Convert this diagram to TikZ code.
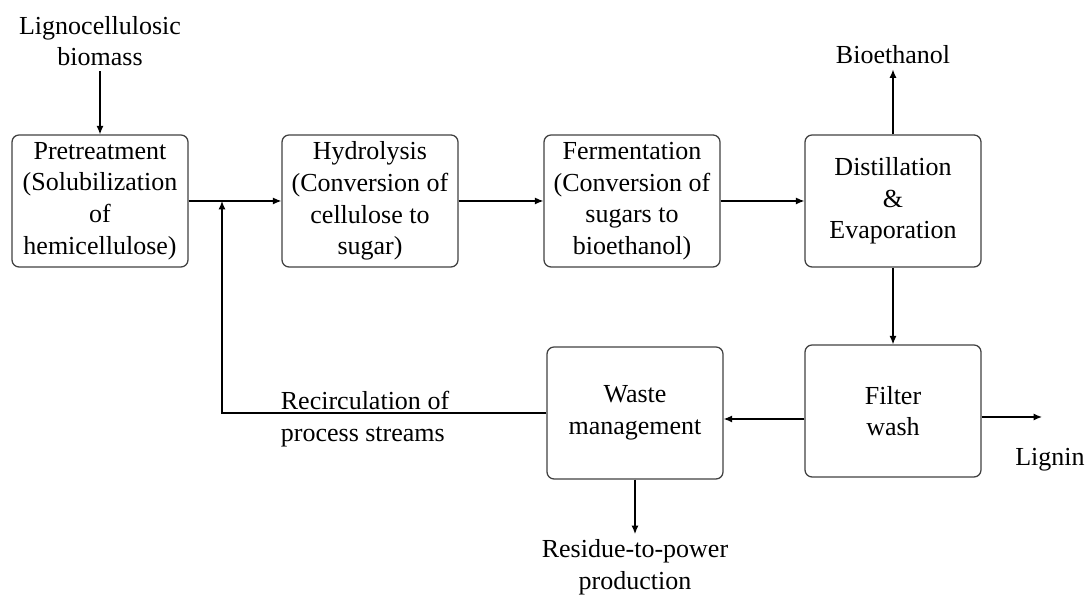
\documentclass[tikz,border=0pt]{standalone}
\usepackage{fontspec}
\setmainfont{Liberation Serif}
\usetikzlibrary{arrows.meta,positioning}

\begin{document}
\begin{tikzpicture}[>={Latex[length=6pt,width=5pt]},line width=0.9pt,on grid,auto,
  every node/.style={font=\fontsize{18.5}{22.5}\selectfont},
  proc/.style={draw=black!75,rounded corners=5pt,minimum width=4.4cm,minimum height=3.3cm,align=center,inner sep=2pt},
  txt/.style={align=center}]
 \useasboundingbox (0,0) rectangle (27.275,14.875);
 \node[proc] (pre) at (2.5,9.85) {Pretreatment\\(Solubilization\\of\\hemicellulose)};
 \node[proc] (hyd) [right=6.75cm of pre] {Hydrolysis\\(Conversion of\\cellulose to\\sugar)};
 \node[proc] (fer) [right=6.55cm of hyd] {Fermentation\\(Conversion of\\sugars to\\bioethanol)};
 \node[proc] (dis) [right=6.525cm of fer] {Distillation\\\&\\Evaporation};
 \node[proc] (fil) [below=5.25cm of dis] {Filter\\wash};
 \node[proc] (was) [left=6.45cm of fil,yshift=-0.05cm] {Waste\\management};
 \node[txt] (feed) [above=4cm of pre] {Lignocellulosic\\biomass};
 \node[txt] (bio) [above=3.65cm of dis] {Bioethanol};
 \node[txt] (res) [below=3.85cm of was] {Residue-to-power\\production};
 \node[txt] (lig) at (26.25,3.375) {Lignin};
 \node[align=left] (rec) at (9.125,4.4) {Recirculation of\\process streams};
 \coordinate (jn) at (5.55,9.85);
 \coordinate (ligend) at (26.05,4.45);
 \path[->]
 (feed) edge (pre)
 (pre) edge (hyd)
 (hyd) edge (fer)
 (fer) edge (dis)
 (dis) edge (bio)
 (dis) edge (fil)
 (was) edge (res);
 \draw[->] ([yshift=-2mm]fil.west) -- ([yshift=-2mm]fil.west -| was.east);
 \draw[->] (fil.east |- ligend) -- (ligend);
 \draw[->] (was.west) -| (jn);
\end{tikzpicture}
\end{document}
